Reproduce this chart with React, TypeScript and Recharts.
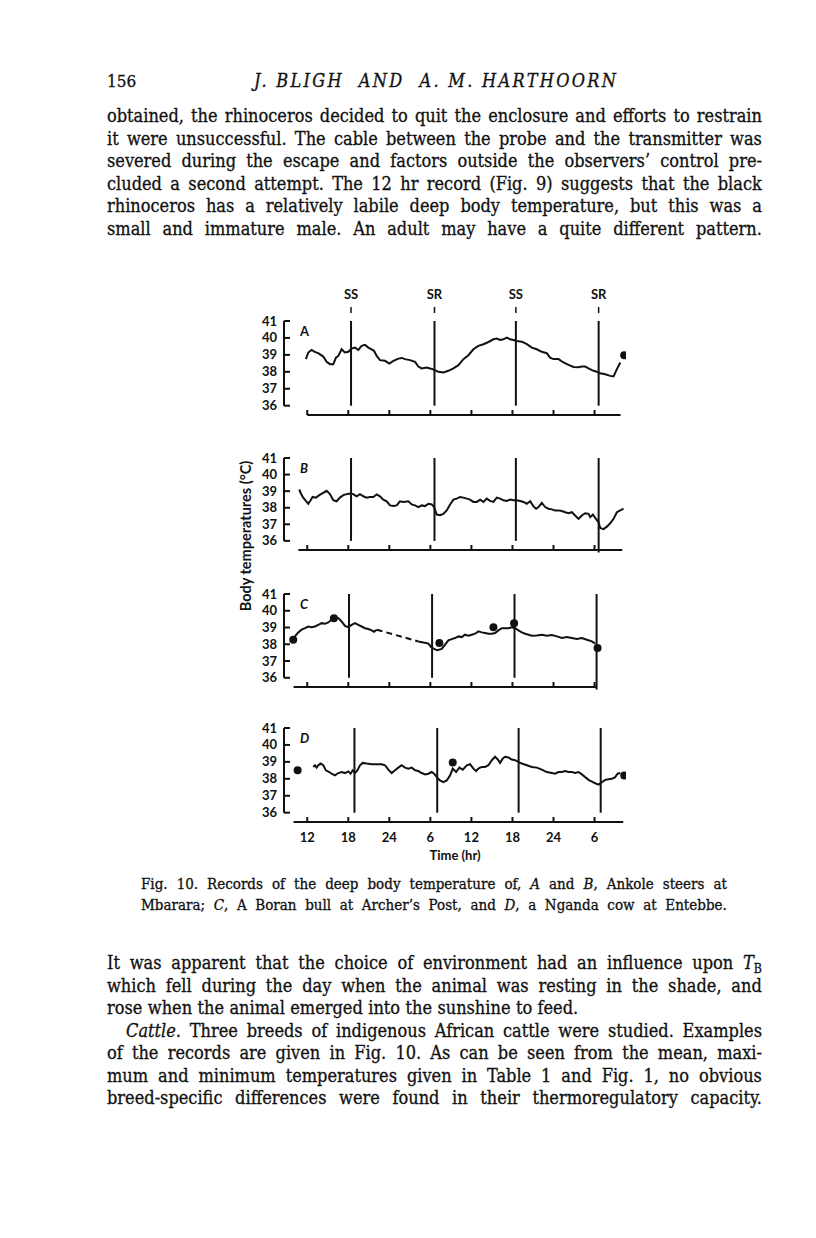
import React from "react";
import { ComposedChart, Line, Scatter, XAxis, YAxis, ReferenceLine, Label } from "recharts";

const INK = "#111";
const SERIF = "'DejaVu Serif Condensed', 'DejaVu Serif', serif";
const SANS = "Lato, 'DejaVu Sans', sans-serif";

// time axis (hours from the start of day 1), labels are clock hours
const hourTicks = [12, 18, 24, 30, 36, 42, 48, 54];
const hourLabels = ["12", "18", "24", "6", "12", "18", "24", "6"];
const tempTicks = [36, 37, 38, 39, 40, 41];
const sunLabels = ["SS", "SR", "SS", "SR"];

// A - Ankole steer
const aHours = [11.8, 12.15, 12.63, 13.1, 13.6, 14.34, 14.83, 15.32, 15.8, 16.2, 16.54, 17.02, 17.5, 18.0, 18.49, 18.98, 19.46, 19.95, 20.44, 20.93, 21.41, 21.76, 22.15, 22.63, 23.37, 24.0, 24.59, 25.32, 25.8, 26.29, 27.02, 27.76, 28.24, 28.73, 29.46, 29.95, 30.54, 31.17, 31.9, 32.63, 33.37, 34.1, 34.83, 35.56, 36.29, 37.02, 37.76, 38.49, 39.22, 39.7, 40.2, 40.68, 41.17, 41.66, 42.15, 42.63, 43.37, 44.1, 44.83, 45.56, 46.29, 47.02, 47.5, 48.0, 48.73, 49.46, 50.2, 50.93, 51.66, 52.15, 52.63, 53.12, 53.85, 54.34, 54.83, 55.56, 56.29, 56.78, 57.27, 57.76];
const aTemps = [38.75, 39.14, 39.29, 39.18, 39.1, 38.9, 38.59, 38.45, 38.45, 38.84, 38.94, 39.33, 39.14, 39.18, 39.37, 39.43, 39.29, 39.53, 39.59, 39.43, 39.33, 39.24, 38.94, 38.69, 38.65, 38.49, 38.65, 38.78, 38.82, 38.75, 38.69, 38.59, 38.31, 38.2, 38.25, 38.2, 38.12, 38.0, 37.96, 38.06, 38.2, 38.39, 38.75, 38.98, 39.33, 39.53, 39.63, 39.76, 39.92, 39.96, 39.88, 39.92, 40.02, 39.92, 39.88, 39.82, 39.78, 39.63, 39.43, 39.33, 39.18, 39.1, 38.84, 38.75, 38.75, 38.55, 38.41, 38.29, 38.27, 38.31, 38.31, 38.2, 38.06, 38.0, 37.92, 37.86, 37.76, 37.73, 38.16, 38.55];
const aDotHours = [58.34];
const aDotTemps = [38.98];
const aSun = [18.4, 30.6, 42.5, 54.6];

// B - Ankole steer
const bHours = [10.83, 11.07, 11.41, 11.8, 12.15, 12.49, 12.78, 13.27, 13.76, 14.34, 14.83, 15.32, 15.8, 16.29, 16.78, 17.27, 17.76, 18.24, 18.73, 19.22, 19.71, 20.2, 20.68, 21.17, 21.66, 22.15, 22.63, 23.12, 23.61, 24.1, 24.59, 25.07, 25.56, 26.05, 26.78, 27.27, 27.76, 28.24, 28.73, 29.22, 29.71, 30.2, 30.54, 30.93, 31.41, 31.9, 32.39, 32.88, 33.37, 33.85, 34.34, 34.83, 35.32, 35.8, 36.29, 36.78, 37.27, 37.76, 38.24, 38.73, 39.22, 39.71, 40.2, 40.68, 41.17, 41.66, 42.15, 42.63, 43.12, 43.61, 44.1, 44.59, 45.07, 45.46, 45.8, 46.29, 46.78, 47.27, 47.76, 48.24, 48.73, 49.22, 49.71, 50.2, 50.68, 51.17, 51.66, 52.15, 52.63, 53.12, 53.37, 53.76, 54.1, 54.59, 54.83, 55.32, 55.8, 56.29, 56.78, 57.27, 57.76, 58.24];
const bTemps = [39.1, 38.86, 38.61, 38.41, 38.24, 38.45, 38.65, 38.61, 38.76, 38.9, 39.02, 38.82, 38.45, 38.39, 38.61, 38.76, 38.82, 38.86, 38.82, 38.69, 38.82, 38.69, 38.61, 38.65, 38.65, 38.8, 38.69, 38.49, 38.39, 38.14, 38.1, 38.14, 38.39, 38.35, 38.39, 38.2, 38.14, 38.04, 38.14, 38.1, 38.24, 38.2, 38.04, 37.59, 37.55, 37.63, 37.84, 38.2, 38.49, 38.55, 38.65, 38.61, 38.55, 38.49, 38.35, 38.35, 38.49, 38.35, 38.55, 38.41, 38.35, 38.61, 38.55, 38.45, 38.41, 38.49, 38.45, 38.45, 38.41, 38.35, 38.24, 38.39, 38.08, 37.94, 38.04, 38.29, 38.04, 37.94, 37.9, 37.84, 37.84, 37.8, 37.73, 37.67, 37.73, 37.53, 37.33, 37.53, 37.67, 37.63, 37.43, 37.59, 37.39, 37.12, 36.78, 36.71, 36.86, 37.06, 37.33, 37.73, 37.84, 37.94];
const bSun = [18.4, 30.6, 42.5, 54.6];

// C - Boran bull (gap in the record drawn dashed)
const cHours1 = [10.2, 10.68, 11.17, 11.66, 12.15, 12.63, 13.12, 13.61, 14.1, 14.59, 15.07, 15.56, 16.05, 16.54, 17.02, 17.51, 18.0, 18.49, 18.98, 19.46, 19.95, 20.44, 20.93, 21.41, 21.76, 22.15];
const cTemps1 = [38.47, 38.71, 38.87, 38.96, 39.06, 39.02, 39.06, 39.16, 39.26, 39.22, 39.3, 39.46, 39.5, 39.56, 39.36, 39.1, 39.02, 39.16, 39.26, 39.16, 39.06, 38.96, 38.91, 38.83, 38.75, 38.87];
const cGapHours = [22.15, 28.24];
const cGapTemps = [38.87, 38.17];
const cHours2 = [28.24, 28.98, 29.71, 30.1, 30.54, 31.02, 31.66, 32.15, 32.63, 33.12, 33.61, 34.1, 34.59, 35.07, 35.56, 36.05, 36.54, 37.02, 37.51, 38.0, 38.49, 38.98, 39.46, 39.95, 40.44, 40.93, 41.41, 41.9, 42.39, 42.88, 43.37, 43.85, 44.34, 44.83, 45.56, 46.29, 47.02, 47.76, 48.49, 49.22, 49.95, 50.68, 51.41, 52.15, 52.88, 53.61, 54.1];
const cTemps2 = [38.17, 38.11, 38.04, 37.84, 37.72, 37.64, 37.72, 37.98, 38.23, 38.31, 38.37, 38.47, 38.43, 38.57, 38.51, 38.57, 38.63, 38.77, 38.71, 38.67, 38.63, 38.63, 38.67, 38.83, 38.96, 38.96, 38.96, 39.02, 38.96, 38.83, 38.71, 38.63, 38.57, 38.51, 38.53, 38.57, 38.51, 38.55, 38.47, 38.37, 38.43, 38.37, 38.31, 38.37, 38.27, 38.17, 38.04];
const cDotHours = [9.95, 15.9, 31.32, 39.22, 42.24, 54.44];
const cDotTemps = [38.27, 39.56, 38.08, 39.02, 39.26, 37.78];
const cSun = [18.1, 30.25, 42.3, 54.3];

// D - Nganda cow
const dHours = [12.88, 13.12, 13.37, 13.61, 13.95, 14.34, 14.73, 15.22, 15.56, 16.05, 16.54, 17.02, 17.51, 18.0, 18.34, 18.63, 18.98, 19.32, 19.71, 20.1, 20.68, 21.41, 22.15, 22.88, 23.37, 23.85, 24.34, 24.83, 25.32, 25.8, 26.29, 26.78, 27.27, 27.76, 28.24, 28.73, 29.22, 29.71, 30.2, 30.54, 30.93, 31.41, 31.9, 32.39, 32.88, 33.27, 33.76, 34.24, 34.73, 35.32, 35.8, 36.29, 36.68, 37.02, 37.51, 38.0, 38.49, 38.98, 39.46, 39.85, 40.2, 40.59, 40.93, 41.41, 41.9, 42.39, 42.88, 43.37, 44.1, 44.83, 45.56, 46.29, 47.02, 47.76, 48.24, 48.73, 49.22, 49.71, 50.2, 50.68, 51.17, 51.66, 52.15, 52.63, 53.12, 53.61, 54.1, 54.59, 55.07, 55.56, 56.05, 56.54, 57.02, 57.37, 57.76];
const dTemps = [38.7, 38.8, 38.66, 38.8, 38.9, 38.8, 38.5, 38.4, 38.3, 38.2, 38.34, 38.4, 38.34, 38.44, 38.3, 38.5, 38.34, 38.5, 38.8, 38.94, 38.9, 38.86, 38.86, 38.86, 38.8, 38.54, 38.34, 38.5, 38.66, 38.8, 38.66, 38.6, 38.66, 38.5, 38.46, 38.34, 38.26, 38.3, 38.4, 38.3, 38.1, 37.9, 37.8, 37.9, 38.2, 38.6, 38.4, 38.66, 38.54, 38.8, 38.86, 38.6, 38.46, 38.6, 38.7, 38.7, 38.8, 39.1, 39.3, 39.14, 38.94, 39.2, 39.3, 39.26, 39.14, 39.1, 39.0, 38.9, 38.8, 38.7, 38.66, 38.54, 38.4, 38.34, 38.3, 38.4, 38.4, 38.46, 38.4, 38.4, 38.34, 38.4, 38.26, 38.1, 37.94, 37.84, 37.74, 37.66, 37.8, 37.94, 37.98, 38.0, 38.1, 38.3, 38.34];
const dDotHours = [10.59, 33.27, 58.34];
const dDotTemps = [38.5, 38.96, 38.2];
const dSun = [18.9, 31.0, 42.9, 54.9];

const zip = (h: number[], t: number[]) => h.map((x, i) => ({ h: x, t: t[i] }));

const para1 = [
  "obtained, the rhinoceros decided to quit the enclosure and efforts to restrain",
  "it were unsuccessful. The cable between the probe and the transmitter was",
  "severed during the escape and factors outside the observers’ control pre-",
  "cluded a second attempt. The 12 hr record (Fig. 9) suggests that the black",
  "rhinoceros has a relatively labile deep body temperature, but this was a",
  "small and immature male. An adult may have a quite different pattern.",
];
const caption = [
  "Fig. 10. Records of the deep body temperature of, *A* and *B*, Ankole steers at",
  "Mbarara; *C*, A Boran bull at Archer’s Post, and *D*, a Nganda cow at Entebbe.",
];
const para2 = [
  "It was apparent that the choice of environment had an influence upon *T*~B",
  "which fell during the day when the animal was resting in the shade, and",
  "rose when the animal emerged into the sunshine to feed.",
  "*Cattle*. Three breeds of indigenous African cattle were studied. Examples",
  "of the records are given in Fig. 10. As can be seen from the mean, maxi-",
  "mum and minimum temperatures given in Table 1 and Fig. 1, no obvious",
  "breed-specific differences were found in their thermoregulatory capacity.",
];

const chartText = { fontFamily: SANS, fontSize: 13, fontWeight: 700, fill: INK };

function renderWord(w: string, k: number) {
  const parts = w.split(/(\*[^*]+\*|~\w)/).filter(Boolean);
  return (
    <span key={k}>
      {parts.map((p, i) =>
        p.startsWith("*") ? (
          <i key={i}>{p.slice(1, -1)}</i>
        ) : p.startsWith("~") ? (
          <span key={i} style={{ fontSize: "0.68em", position: "relative", top: "0.3em" }}>{p.slice(1)}</span>
        ) : (
          p
        )
      )}
    </span>
  );
}

function TextLine({ x, base, w, size, text, justify = true }: any) {
  const words = text.split(/\s+/);
  return (
    <div
      style={{
        position: "absolute",
        left: x,
        top: base - 0.846 * size,
        width: w,
        height: size,
        lineHeight: `${size}px`,
        fontSize: size,
        fontFamily: SERIF,
        color: INK,
        WebkitTextStroke: "0.3px #111",
        whiteSpace: "pre",
        display: "flex",
        justifyContent: justify ? "space-between" : "flex-start",
        gap: justify ? 0 : "0.3em",
      }}
    >
      {words.map(renderWord)}
    </div>
  );
}

function Panel({ letter, italic, top, ph, lines, dotH, dotT, sun, axisFrom, axisTo, lastDrop, showSun, showTime }: any) {
  const xTick = (p: any) => (
    <g>
      <line x1={p.x} x2={p.x} y1={p.y} y2={p.y - 5} stroke={INK} strokeWidth={2} />
      {showTime && (
        <text x={p.x} y={p.y + 15} dy="0.35em" textAnchor="middle" style={chartText}>
          {hourLabels[hourTicks.indexOf(p.payload.value)]}
        </text>
      )}
    </g>
  );
  const yTick = (p: any) => (
    <g>
      <line x1={p.x} x2={p.x + 6} y1={p.y} y2={p.y} stroke={INK} strokeWidth={2} />
      <text x={p.x - 7} y={p.y} dy="0.35em" textAnchor="end" style={chartText}>
        {p.payload.value}
      </text>
    </g>
  );
  return (
    <div style={{ position: "absolute", left: 254, top }}>
      <ComposedChart width={382} height={80 + ph} margin={{ top: 40, right: 10, bottom: 0, left: 0 }}>
        <XAxis
          type="number"
          dataKey="h"
          domain={[8.6, 58.6]}
          ticks={hourTicks}
          interval={0}
          allowDataOverflow
          height={40}
          axisLine={false}
          tickLine={false}
          tickSize={0}
          tickMargin={0}
          tick={xTick}
        >
          {showTime && <Label value="Time (hr)" position="insideBottom" offset={2} style={chartText} />}
        </XAxis>
        <YAxis
          type="number"
          dataKey="t"
          domain={[35.45, 41]}
          ticks={tempTicks}
          interval={0}
          allowDataOverflow
          width={30}
          axisLine={false}
          tickLine={false}
          tickSize={0}
          tickMargin={0}
          tick={yTick}
        />
        <ReferenceLine segment={[{ x: 8.6, y: 36 }, { x: 8.6, y: 41 }]} stroke={INK} strokeWidth={2} ifOverflow="visible" />
        <ReferenceLine segment={[{ x: axisFrom, y: 35.45 }, { x: axisTo, y: 35.45 }]} stroke={INK} strokeWidth={2} ifOverflow="visible" />
        {sun.map((h: number, i: number) => (
          <ReferenceLine
            key={"s" + i}
            segment={[{ x: h, y: i === 3 ? lastDrop : 36 }, { x: h, y: 41 }]}
            stroke={INK}
            strokeWidth={2}
            ifOverflow="visible"
          />
        ))}
        {showSun &&
          sun.map((h: number, i: number) => (
            <ReferenceLine
              key={"m" + i}
              segment={[{ x: h, y: 41.47 }, { x: h, y: 41.83 }]}
              stroke={INK}
              strokeWidth={1.5}
              ifOverflow="visible"
              label={{ value: sunLabels[i], position: "top", offset: 8, style: chartText }}
            />
          ))}
        {lines.map((l: any, i: number) => (
          <Line
            key={"l" + i}
            data={zip(l.h, l.t)}
            dataKey="t"
            type="linear"
            stroke={INK}
            strokeWidth={2}
            strokeDasharray={l.dashed ? "6 4" : undefined}
            dot={false}
            activeDot={false}
            isAnimationActive={false}
          />
        ))}
        <Scatter
          data={zip(dotH, dotT)}
          dataKey="t"
          fill={INK}
          isAnimationActive={false}
          shape={(p: any) => <circle cx={p.cx} cy={p.cy} r={4} fill={INK} />}
        />
      </ComposedChart>
      <div
        style={{
          position: "absolute",
          left: 46,
          top: 42,
          fontFamily: SANS,
          fontWeight: 700,
          fontSize: 13,
          fontStyle: italic ? "italic" : "normal",
          color: INK,
        }}
      >
        {letter}
      </div>
    </div>
  );
}

export default function App() {
  return (
    <div style={{ position: "absolute", left: 0, top: 0, width: 816, height: 1238, background: "#fff", overflow: "hidden" }}>
      <div style={{ position: "absolute", left: 107, top: 87 - 0.846 * 17, lineHeight: "17px", fontSize: 17, fontFamily: SERIF, color: INK, WebkitTextStroke: "0.3px #111" }}>
        156
      </div>
      <div
        style={{
          position: "absolute",
          left: 254,
          top: 87 - 0.846 * 18,
          lineHeight: "18px",
          fontSize: 18,
          fontFamily: SERIF,
          fontStyle: "italic",
          letterSpacing: 2.3,
          whiteSpace: "pre",
          color: INK,
          WebkitTextStroke: "0.3px #111",
        }}
      >
        J. BLIGH  AND  A. M. HARTHOORN
      </div>

      {para1.map((s, i) => (
        <TextLine key={"p1" + i} x={107} base={122.5 + i * 22.5} w={655} size={18} text={s} />
      ))}

      <Panel letter="A" top={281} ph={94} lines={[{ h: aHours, t: aTemps }]} dotH={aDotHours} dotT={aDotTemps} sun={aSun} axisFrom={12} axisTo={57.8} lastDrop={36} showSun />
      <Panel letter="B" italic top={418} ph={92} lines={[{ h: bHours, t: bTemps }]} dotH={[]} dotT={[]} sun={bSun} axisFrom={10.7} axisTo={58.05} lastDrop={35.3} />
      <Panel
        letter="C"
        italic
        top={554}
        ph={93}
        lines={[
          { h: cHours1, t: cTemps1 },
          { h: cGapHours, t: cGapTemps, dashed: true },
          { h: cHours2, t: cTemps2 },
        ]}
        dotH={cDotHours}
        dotT={cDotTemps}
        sun={cSun}
        axisFrom={10}
        axisTo={54.3}
        lastDrop={35.3}
      />
      <Panel letter="D" italic top={688} ph={94} lines={[{ h: dHours, t: dTemps }]} dotH={dDotHours} dotT={dDotTemps} sun={dSun} axisFrom={10} axisTo={58.2} lastDrop={36} showTime />

      <div
        style={{
          position: "absolute",
          left: 245,
          top: 536,
          transform: "translate(-50%, -50%) rotate(-90deg)",
          whiteSpace: "nowrap",
          fontFamily: SANS,
          fontWeight: 700,
          fontSize: 14.5,
          color: INK,
        }}
      >
        Body temperatures (°C)
      </div>

      {caption.map((s, i) => (
        <TextLine key={"c" + i} x={141} base={889.5 + i * 21} w={586} size={15} text={s} />
      ))}

      {para2.map((s, i) => (
        <TextLine
          key={"p2" + i}
          x={i === 3 ? 126 : 107}
          base={969.5 + i * 22.5}
          w={i === 3 ? 636 : 655}
          size={18}
          text={s}
          justify={i !== 2}
        />
      ))}
    </div>
  );
}
